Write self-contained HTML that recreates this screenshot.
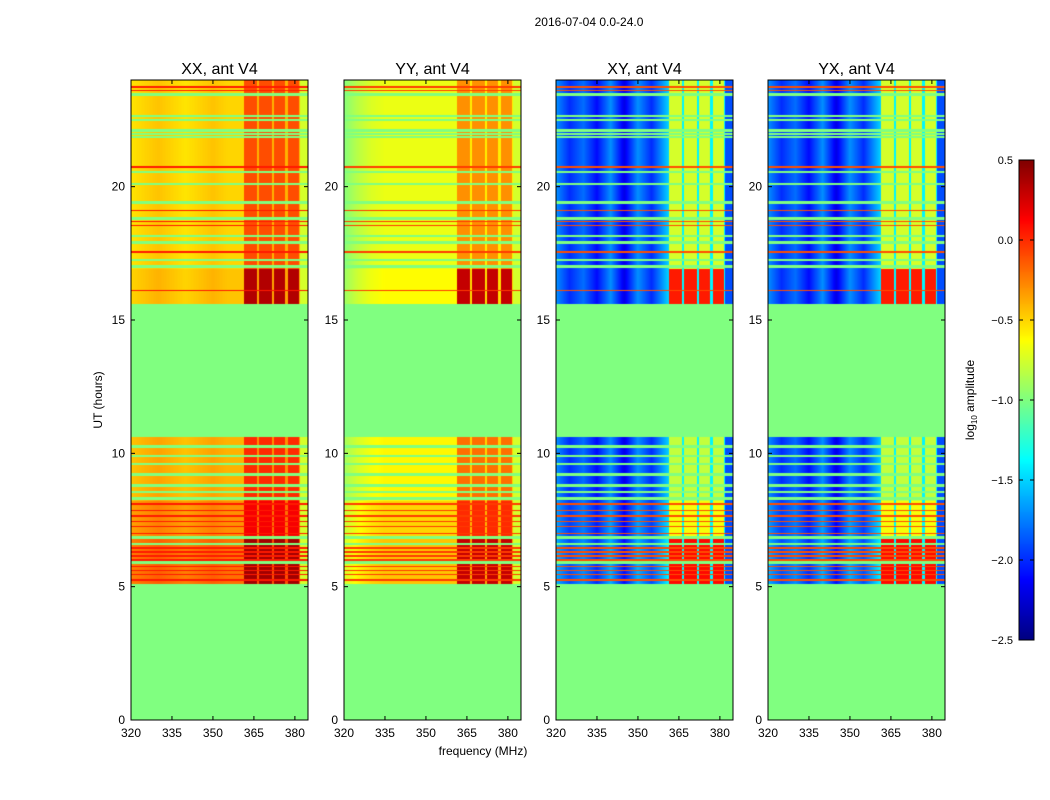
<!DOCTYPE html>
<html><head><meta charset="utf-8"><style>
body{margin:0;background:#fff;font-family:"Liberation Sans",sans-serif;}
#root{position:relative;width:1050px;height:800px;background:#fff;overflow:hidden}
canvas{position:absolute}
</style></head><body>
<div id="root">
<svg id="svg" width="1050" height="800" style="position:absolute;left:0;top:0"></svg>
</div>
<script>
// ---- data ----
const pols = ['XX','YY','XY','YX'];
const obsBlocks = [[5.1,10.6],[15.6,24.0]];
const segStart = [5.1, 6.8, 8.2, 15.6, 16.9];
const segEnd   = [6.8, 8.2, 10.6, 16.9, 24.0];
const baseXX = [-0.2,-0.3,-0.4,-0.45,-0.5];
const baseYY = [-0.45,-0.5,-0.6,-0.62,-0.68];
const baseXY = [-1.9,-1.95,-2.0,-2.0,-2.0];
const baseYX = [-1.9,-1.95,-2.0,-2.0,-2.0];
const rfiXX = [0.4,0.15,0.0,0.35,-0.1];
const rfiYY = [0.3,0.0,-0.2,0.3,-0.3];
const rfiXY = [0.1,-0.65,-0.8,0.05,-0.75];
const rfiYX = [0.1,-0.65,-0.8,0.05,-0.75];
const flagRows = [23.45,22.65,22.5,22.1,21.98,21.86,20.55,20.1,19.4,18.8,18.15,17.9,17.25,17.0,
                  5.9,6.6,6.85,8.3,8.55,8.8,9.2,9.6,9.9,10.25];
const redRows = [23.74,23.6,20.74,19.1,18.7,18.55,17.55,16.1,
                 5.25,5.45,5.6,5.75,6.0,6.15,6.3,6.45,7.0,7.25,7.45,7.65,7.85,8.1];
const redVal = [0.05,-0.05,-0.1,-0.1];
const profFreq = [320,325,330,335,340,345,350,355,360];
const profXX = [-0.05,0,0.05,0,-0.05,0,0.05,0,0];
const profYY = [-0.3,-0.15,-0.05,0,0,0,0,0,0];
const profXY = [0.3,0,0.2,-0.1,0.3,-0.2,0.3,0,0.4];
const profYX = [0.3,0,0.2,-0.1,0.3,-0.2,0.3,0,0.4];
const rfiChan = [[361.5,366],[367,371.5],[372.5,376.5],[377.5,381.5]];
const xTicks = [320,335,350,365,380];
const yTicks = [0,5,10,15,20];
const cbTicks = [0.5,0.0,-0.5,-1.0,-1.5,-2.0,-2.5];

const bases=[baseXX,baseYY,baseXY,baseYX], rfis=[rfiXX,rfiYY,rfiXY,rfiYX], profs=[profXX,profYY,profXY,profYX];
const panelX=[131,344,556,768], PW=177, PT=80, PH=640;
const fMin=320, fMax=384.8, tMin=0, tMax=24, vMin=-2.5, vMax=0.5;
const xs=f=>(f-fMin)/(fMax-fMin)*PW, ys=h=>PH-(h-tMin)/(tMax-tMin)*PH;
function jet(v){let x=Math.max(0,Math.min(1,(v-vMin)/(vMax-vMin)));const c=a=>Math.round(255*Math.max(0,Math.min(1,1.5-Math.abs(4*x-a))));return [c(3),c(2),c(1)];}
function valueAt(p,f,h){
  if(!obsBlocks.some(b=>h>=b[0]&&h<=b[1])) return -1;
  if(flagRows.some(r=>Math.abs(h-r)<0.05)) return -1;
  if(redRows.some(r=>Math.abs(h-r)<0.03)) return redVal[p];
  let s=segStart.findIndex((a,i)=>h>=a&&h<segEnd[i]); if(s<0)s=segStart.length-1;
  if(f>=361.5){
    if(f>382) return p<2? -0.75 : -1.9;
    if(rfiChan.some(c=>f>=c[0]&&f<=c[1])) return rfis[p][s];
    return p<2? bases[p][s]+0.1 : -1.4;
  }
  let i=Math.min(profFreq.length-2,Math.max(0,Math.floor((f-320)/5)));
  const t=(f-profFreq[i])/5, off=profs[p][i]*(1-t)+profs[p][i+1]*t;
  return bases[p][s]+off;
}
const root=document.getElementById('root'), svg=document.getElementById('svg');
const NS='http://www.w3.org/2000/svg';
function sv(tag,attrs,name){const e=document.createElementNS(NS,tag);for(const k in attrs)e.setAttribute(k,attrs[k]);


svg.appendChild(e);return e;}
function txt(s,x,y,anchor,size,name){const e=sv('text',{x:x,y:y,'text-anchor':anchor,'font-size':size,'font-family':'Liberation Sans, sans-serif'},name);e.textContent=s;return e;}
pols.forEach((pol,p)=>{
  const cv=document.createElement('canvas');cv.width=PW;cv.height=PH;
  cv.style.left=panelX[p]+'px';cv.style.top=PT+'px';
  
  
  root.insertBefore(cv,svg);
  const ctx=cv.getContext('2d'),img=ctx.createImageData(PW,PH);
  for(let y=0;y<PH;y++){const h=tMax-(y+0.5)/PH*(tMax-tMin);
    for(let x=0;x<PW;x++){const f=fMin+(x+0.5)/PW*(fMax-fMin);const c=jet(valueAt(p,f,h));const k=(y*PW+x)*4;
      img.data[k]=c[0];img.data[k+1]=c[1];img.data[k+2]=c[2];img.data[k+3]=255;}}
  ctx.putImageData(img,0,0);
  const X=panelX[p];
  sv('rect',{x:X,y:PT,width:PW,height:PH,fill:'none',stroke:'#000','stroke-width':1},'panel-frame-'+pol.toLowerCase());
  xTicks.forEach(v=>{const x=X+xs(v);
    sv('line',{x1:x,x2:x,y1:PT+PH,y2:PT+PH-4,stroke:'#000'},'x-tick');
    sv('line',{x1:x,x2:x,y1:PT,y2:PT+4,stroke:'#000'},'x-tick-top');
    txt(String(v),x,PT+PH+17,'middle',12,'x-tick-label');});
  yTicks.forEach(v=>{const y=PT+ys(v);
    sv('line',{x1:X,x2:X+4,y1:y,y2:y,stroke:'#000'},'y-tick');
    sv('line',{x1:X+PW,x2:X+PW-4,y1:y,y2:y,stroke:'#000'},'y-tick-right');
    txt(String(v),X-6,y+4,'end',12,'y-tick-label');});
  txt(pol+', ant V4',X+PW/2,PT-6,'middle',16,'panel-title-'+pol.toLowerCase());
});
txt('2016-07-04 0.0-24.0',589,26,'middle',12,'figure-title');
const yl=txt('UT (hours)',0,0,'middle',12,'y-axis-title');yl.setAttribute('transform','translate(102,400) rotate(-90)');
txt('frequency (MHz)',483,755,'middle',12,'x-axis-title');
// colorbar
const cbX=1019,cbY=160,cbW=15,cbH=480;
const cb=document.createElement('canvas');cb.width=cbW;cb.height=cbH;cb.style.left=cbX+'px';cb.style.top=cbY+'px';


root.insertBefore(cb,svg);
const cctx=cb.getContext('2d');
for(let y=0;y<cbH;y++){const c=jet(vMax-(y+0.5)/cbH*(vMax-vMin));cctx.fillStyle='rgb('+c+')';cctx.fillRect(0,y,cbW,1);}
sv('rect',{x:cbX,y:cbY,width:cbW,height:cbH,fill:'none',stroke:'#000'},'colorbar-frame');
cbTicks.forEach(v=>{const y=cbY+(vMax-v)/(vMax-vMin)*cbH;
  sv('line',{x1:cbX,x2:cbX+4,y1:y,y2:y,stroke:'#000'},'colorbar-tick');
  sv('line',{x1:cbX+cbW,x2:cbX+cbW-4,y1:y,y2:y,stroke:'#000'},'colorbar-tick-right');
  txt((v<0?'\u2212':'')+Math.abs(v).toFixed(1),1013,y+4,'end',11,'colorbar-tick-label');});
const cl=sv('text',{'text-anchor':'middle','font-size':12,'font-family':'Liberation Sans, sans-serif',transform:'translate(974,400) rotate(-90)'},'colorbar-label');
cl.innerHTML='log<tspan font-size="8" dy="3">10</tspan><tspan dy="-3"> amplitude</tspan>';
</script>
</body></html>
